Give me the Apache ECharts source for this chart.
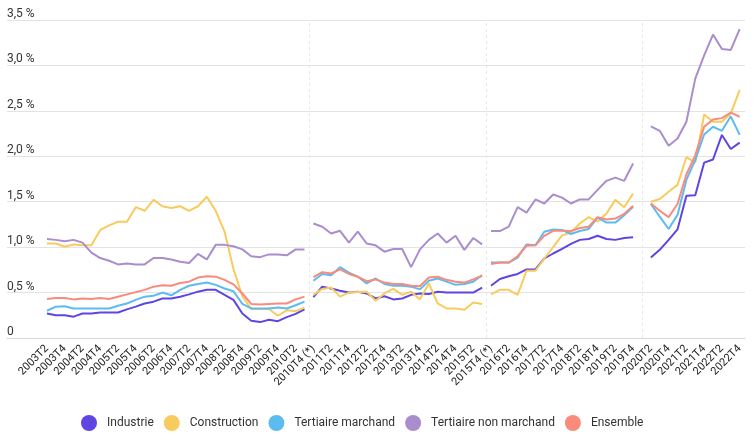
<!DOCTYPE html>
<html>
<head>
<meta charset="utf-8">
<script src="https://cdn.jsdelivr.net/npm/echarts@6/dist/echarts.min.js"></script>
<style>
html,body{margin:0;padding:0;background:#fff;}
#chart{width:756px;height:440px;}
</style>
</head>
<body>
<div id="chart"></div>
<script>
const categories = [
'2003T2','2003T3','2003T4',
'2004T1','2004T2','2004T3','2004T4',
'2005T1','2005T2','2005T3','2005T4',
'2006T1','2006T2','2006T3','2006T4',
'2007T1','2007T2','2007T3','2007T4',
'2008T1','2008T2','2008T3','2008T4',
'2009T1','2009T2','2009T3','2009T4',
'2010T1','2010T2','2010T3','2010T4 (*)',
'2011T1','2011T2','2011T3','2011T4',
'2012T1','2012T2','2012T3','2012T4',
'2013T1','2013T2','2013T3','2013T4',
'2014T1','2014T2','2014T3','2014T4',
'2015T1','2015T2','2015T3','2015T4 (*)',
'2016T1','2016T2','2016T3','2016T4',
'2017T1','2017T2','2017T3','2017T4',
'2018T1','2018T2','2018T3','2018T4',
'2019T1','2019T2','2019T3','2019T4',
'2020T1','2020T2','2020T3','2020T4',
'2021T1','2021T2','2021T3','2021T4',
'2022T1','2022T2','2022T3','2022T4'
];
// indices where a new series (methodology break) starts
const breakStarts = [30, 50];
// dashed separators (category positions)
const separators = [29.5, 49.5, 67];

const industrie = [
0.27,0.25,0.25,0.235,0.27,0.27,0.28,0.28,0.28,0.315,0.345,0.38,0.40,0.435,0.435,0.455,0.48,0.51,0.53,0.53,0.475,0.42,0.27,0.19,0.175,0.20,0.185,0.23,0.265,0.315,
0.45,0.565,0.545,0.52,0.50,0.51,0.49,0.435,0.46,0.425,0.435,0.475,0.49,0.485,0.51,0.50,0.50,0.50,0.50,0.555,
0.575,0.65,0.68,0.705,0.755,0.755,0.875,0.93,0.98,1.035,1.08,1.09,1.125,1.09,1.08,1.10,1.11,
null,
0.885,0.97,1.08,1.195,1.565,1.57,1.93,1.965,2.235,2.08,2.15];
const construction = [
1.04,1.04,1.005,1.03,1.02,1.02,1.19,1.24,1.28,1.28,1.44,1.40,1.52,1.45,1.43,1.45,1.40,1.45,1.555,1.40,1.17,0.76,0.46,0.32,0.32,0.32,0.245,0.305,0.295,0.335,
0.475,0.54,0.555,0.455,0.50,0.505,0.51,0.41,0.49,0.54,0.475,0.51,0.425,0.60,0.38,0.325,0.325,0.31,0.39,0.375,
0.48,0.53,0.53,0.475,0.74,0.74,0.875,1.0,1.13,1.16,1.26,1.33,1.28,1.37,1.52,1.44,1.59,
null,
1.50,1.53,1.61,1.685,1.99,1.93,2.46,2.38,2.38,2.47,2.73];
const tertiaireMarchand = [
0.30,0.345,0.35,0.325,0.325,0.325,0.325,0.325,0.355,0.38,0.42,0.455,0.465,0.50,0.47,0.53,0.575,0.595,0.61,0.585,0.545,0.515,0.375,0.325,0.325,0.325,0.335,0.325,0.36,0.40,
0.63,0.705,0.69,0.78,0.72,0.675,0.60,0.655,0.595,0.575,0.575,0.565,0.535,0.63,0.655,0.62,0.585,0.595,0.62,0.69,
0.83,0.83,0.83,0.885,1.03,1.02,1.17,1.195,1.19,1.145,1.177,1.20,1.325,1.27,1.27,1.35,1.445,
null,
1.475,1.335,1.20,1.355,1.74,1.96,2.24,2.325,2.28,2.44,2.235];
const tertiaireNonMarchand = [
1.09,1.08,1.065,1.08,1.05,0.94,0.88,0.85,0.81,0.82,0.81,0.81,0.88,0.88,0.865,0.84,0.825,0.925,0.865,1.025,1.025,1.01,0.975,0.90,0.89,0.92,0.92,0.91,0.975,0.975,
1.26,1.225,1.15,1.18,1.05,1.17,1.04,1.02,0.95,0.98,0.98,0.78,0.975,1.08,1.15,1.05,1.125,0.97,1.10,1.03,
1.177,1.177,1.225,1.44,1.38,1.525,1.48,1.58,1.545,1.48,1.525,1.525,1.63,1.73,1.765,1.73,1.92,
null,
2.33,2.28,2.115,2.195,2.38,2.855,3.11,3.34,3.18,3.17,3.40];
const ensemble = [
0.43,0.44,0.44,0.425,0.435,0.43,0.44,0.43,0.455,0.48,0.505,0.53,0.565,0.58,0.575,0.605,0.62,0.665,0.68,0.675,0.64,0.59,0.49,0.375,0.37,0.375,0.38,0.38,0.425,0.455,
0.67,0.725,0.71,0.755,0.705,0.675,0.625,0.645,0.61,0.595,0.595,0.575,0.57,0.665,0.675,0.64,0.62,0.61,0.645,0.685,
0.815,0.83,0.83,0.90,1.015,1.02,1.125,1.18,1.18,1.177,1.21,1.225,1.33,1.305,1.315,1.365,1.455,
null,
1.48,1.40,1.33,1.475,1.80,2.01,2.325,2.405,2.42,2.48,2.435];

const seriesNames = ['Industrie','Construction','Tertiaire marchand','Tertiaire non marchand','Ensemble'];
const seriesValues = [industrie, construction, tertiaireMarchand, tertiaireNonMarchand, ensemble];
const colors = ['#5f45e2','#f8cb5e','#5cbcef','#aa8dcc','#fa8a7c'];

function buildData(values){
  const out = [];
  values.forEach((v, i) => {
    if (breakStarts.includes(i)) out.push([i - 0.5, '-']);
    out.push([i, v == null ? '-' : v]);
  });
  return out;
}

const labelIdx = categories.map((c, i) => i).filter(i => i % 2 === 0);

const series = seriesNames.map((name, k) => ({
  name: name,
  type: 'line',
  data: buildData(seriesValues[k]),
  symbol: 'none',
  showSymbol: false,
  connectNulls: false,
  lineStyle: { width: 2, color: colors[k] },
  itemStyle: { color: colors[k] },
  z: 3 + k,
  markLine: k === 0 ? {
    silent: true,
    symbol: ['none','none'],
    label: { show: false },
    lineStyle: { type: [3, 3], color: '#e8e8e8', width: 1 },
    data: separators.map(x => ({ xAxis: x }))
  } : undefined
}));

const chart = echarts.init(document.getElementById('chart'), null, { renderer: 'canvas' });
chart.setOption({
  animation: false,
  color: colors,
  textStyle: { fontFamily: 'Roboto, sans-serif' },
  grid: { left: 7, right: 11, top: 20, bottom: 102, containLabel: false },
  legend: {
    data: seriesNames,
    top: 410,
    left: 76,
    icon: 'circle',
    itemWidth: 16,
    itemHeight: 16,
    itemGap: 10,
    textStyle: { fontSize: 12, color: '#333', fontFamily: 'Roboto, sans-serif', padding: [0, 0, 0, 5] }
  },
  xAxis: {
    type: 'value',
    min: -4.5,
    max: 78.6,
    splitLine: { show: false },
    axisTick: { show: false },
    axisLine: { show: true, lineStyle: { color: '#d8d8d8', width: 1 } },
    axisLabel: {
      customValues: labelIdx,
      rotate: 45,
      fontSize: 11,
      color: '#222',
      margin: 9,
      formatter: v => categories[Math.round(v)] || ''
    }
  },
  yAxis: {
    type: 'value',
    min: 0,
    max: 3.5,
    interval: 0.5,
    axisLine: { show: false },
    axisTick: { show: false },
    splitLine: { lineStyle: { color: '#e3e3e3', width: 1 } },
    axisLabel: {
      inside: true,
      verticalAlign: 'bottom',
      margin: 0,
      padding: [0, 0, 0, 0],
      fontSize: 12,
      color: '#333',
      formatter: v => v === 0 ? '0' : v.toFixed(1).replace('.', ',') + ' %'
    }
  },
  series: series
});
</script>
</body>
</html>
